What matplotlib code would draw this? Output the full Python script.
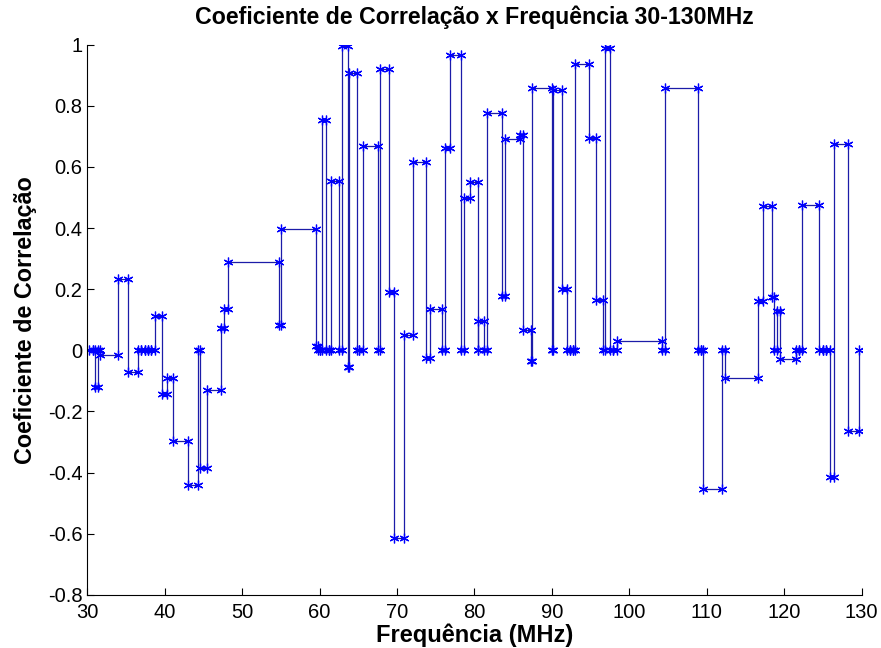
import matplotlib
matplotlib.use("Agg")
import matplotlib.pyplot as plt

# frequency points (MHz) and correlation values, stairs style
freq = [30.2, 30.7, 30.95, 31.4, 31.7, 34.0, 35.3, 36.6, 37.0, 37.4,
        37.8, 38.2, 38.8, 39.7, 40.3, 41.1, 43.0, 44.3, 44.6, 45.5,
        47.3, 47.6, 48.2, 54.8, 55.0, 59.5, 59.8, 60.1, 60.3, 60.85,
        61.2, 61.5, 62.5, 62.9, 63.7, 63.8, 64.8, 65.1, 65.6, 67.5,
        67.8, 69.0, 69.65, 70.9, 72.1, 73.8, 74.3, 75.8, 76.2, 76.8,
        78.3, 78.6, 79.4, 80.4, 80.5, 81.2, 81.6, 83.5, 83.9, 85.9,
        86.3, 87.3, 87.4, 90.0, 90.2, 91.3, 91.9, 92.3, 92.7, 93.0,
        94.75, 95.75, 96.6, 96.8, 97.5, 97.9, 98.4, 104.2, 104.6, 108.9,
        109.2, 109.5, 112.0, 112.3, 116.6, 117.3, 118.4, 118.7, 119.1, 119.5,
        121.5, 121.9, 122.3, 124.5, 125.0, 125.4, 125.9, 126.4, 128.3, 129.6]
corr = [0.0, 0.0, -0.12, 0.0, -0.014, 0.235, -0.07, 0.0, 0.0, 0.0,
        0.0, 0.0, 0.113, -0.142, -0.092, -0.297, -0.44, 0.0, -0.386, -0.13,
        0.072, 0.135, 0.29, 0.082, 0.396, 0.013, 0.0, 0.0, 0.755, 0.0,
        0.0, 0.555, 0.0, 0.995, -0.053, 0.907, 0.0, 0.0, 0.67, 0.0,
        0.92, 0.19, -0.615, 0.05, 0.615, -0.025, 0.135, 0.0, 0.663, 0.965,
        0.0, 0.497, 0.55, 0.0, 0.095, 0.0, 0.775, 0.178, 0.693, 0.706,
        0.066, -0.036, 0.857, 0.0, 0.852, 0.2, 0.0, 0.0, 0.0, 0.937,
        0.696, 0.165, 0.0, 0.99, 0.0, 0.0, 0.03, 0.0, 0.86, 0.0,
        0.0, -0.455, 0.0, -0.092, 0.16, 0.473, 0.175, 0.0, 0.13, -0.027,
        0.0, 0.0, 0.475, 0.0, 0.0, 0.0, -0.415, 0.675, -0.265, 0.0]

xticks = [30, 40, 50, 60, 70, 80, 90, 100, 110, 120, 130]
yticks = [-0.8, -0.6, -0.4, -0.2, 0, 0.2, 0.4, 0.6, 0.8, 1]
ytick_labels = ["-0.8", "-0.6", "-0.4", "-0.2", "0", "0.2", "0.4", "0.6", "0.8", "1"]

plt.rcParams['font.family'] = ['Liberation Sans', 'DejaVu Sans']
plt.rcParams['axes.unicode_minus'] = False

# build the stairs path like MATLAB stairs(): corners get markers too
sx = []
sy = []
i = 0
while i < len(freq) - 1:
    sx.append(freq[i])
    sy.append(corr[i])
    sx.append(freq[i + 1])
    sy.append(corr[i])
    i = i + 1
sx.append(freq[-1])
sy.append(corr[-1])

fig = plt.figure(figsize=(8.81, 6.48), dpi=100)
ax = fig.add_axes([0.099, 0.082, 0.879, 0.849])
ax.plot(sx, sy, '-', color='#1c1ca8', linewidth=0.9)
ax.plot(sx, sy, linestyle='none', marker=(6, 2, 0), color='#0000ff',
        markersize=7, markeredgewidth=0.9)

ax.set_xlim(30, 130)
ax.set_ylim(-0.8, 1)
ax.set_xticks(xticks)
ax.set_yticks(yticks)
ax.set_yticklabels(ytick_labels)
ax.tick_params(direction='in', length=5, labelsize=14.5, width=0.8)
ax.tick_params(axis='x', pad=6)
ax.spines['top'].set_visible(False)
ax.spines['right'].set_visible(False)

ax.set_title("Coeficiente de Correlação x Frequência 30-130MHz", fontsize=16.7, fontweight='bold', pad=15)
ax.set_xlabel("Frequência (MHz)", fontsize=17, fontweight='bold', labelpad=1)
ax.set_ylabel("Coeficiente de Correlação", fontsize=16.8, fontweight='bold', labelpad=8)

fig.savefig("out.png", dpi=100)
